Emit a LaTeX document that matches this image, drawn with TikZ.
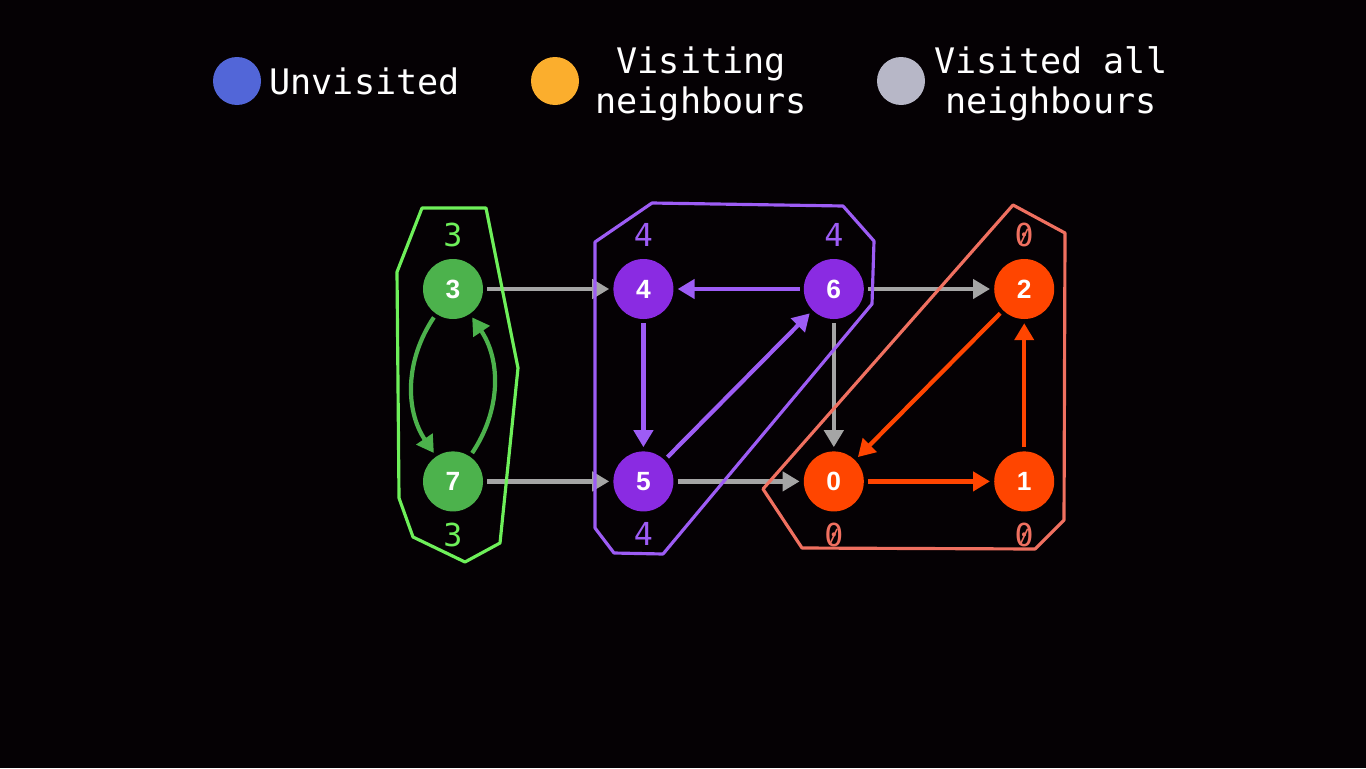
\documentclass[tikz,border=0pt]{standalone}
\usepackage{fontspec}
\setsansfont{Liberation Sans}
\setmonofont{DejaVu Sans Mono}
\usetikzlibrary{positioning,arrows.meta}

\definecolor{bgdark}{RGB}{5,1,4}
\definecolor{legblue}{RGB}{82,102,216}
\definecolor{legorange}{RGB}{251,174,45}
\definecolor{leggray}{RGB}{183,183,199}
\definecolor{grnnode}{RGB}{76,178,76}
\definecolor{grnhull}{RGB}{110,240,90}
\definecolor{purnode}{RGB}{138,43,226}
\definecolor{purhull}{RGB}{157,92,245}
\definecolor{rednode}{RGB}{255,69,0}
\definecolor{redhull}{RGB}{240,112,96}
\definecolor{edgegray}{RGB}{165,165,165}

% zero with a slash through it
\newcommand{\slzero}{\ooalign{0\cr\hidewidth\raisebox{0.1em}{\scalebox{0.62}{/}}\hidewidth\cr}}

\begin{document}
\begin{tikzpicture}[
node distance=1.31cm and 1.29cm,
vertex/.style={circle, minimum size=0.6cm, inner sep=0pt, text=white, font=\sffamily\bfseries\fontsize{7.5}{8}\selectfont},
idx/.style={inner sep=0pt, font=\ttfamily\fontsize{9}{10}\selectfont},
dot/.style={circle, minimum size=0.48cm, inner sep=0pt},
legtext/.style={inner sep=0pt, align=center, text=white, font=\ttfamily\fontsize{10}{11.4}\selectfont},
edge/.style={-{Triangle[length=1.7mm,width=1.9mm]}, line width=1.2pt, shorten <=1pt, shorten >=1pt},
hull/.style={line width=0.9pt, line join=round}
]
\fill[bgdark] (0,0) rectangle (13.66,-7.68);
\useasboundingbox (0,0) rectangle (13.66,-7.68);

% legend
\node[dot, fill=legblue] (dotu) at (2.37,-0.81) {};
\node[legtext, anchor=west, right=0.07cm of dotu] (legu) {Unvisited};
\node[dot, fill=legorange] (doto) at (5.55,-0.81) {};
\node[legtext, anchor=west, right=0.15cm of doto, yshift=-0.03cm] (lego) {Visiting\\neighbours};
\node[dot, fill=leggray] (dotg) at (9.01,-0.81) {};
\node[legtext, anchor=west, right=0.08cm of dotg, yshift=-0.03cm] (legg) {Visited all\\neighbours};

% vertices
\node[vertex, fill=grnnode] (n3) at (4.53,-2.89) {3};
\node[vertex, fill=grnnode, below=of n3] (n7) {7};
\node[vertex, fill=purnode, right=of n3] (n4) {4};
\node[vertex, fill=purnode, below=of n4] (n5) {5};
\node[vertex, fill=purnode, right=of n4] (n6) {6};
\node[vertex, fill=rednode, below=of n6] (n0) {0};
\node[vertex, fill=rednode, right=of n6] (n2) {2};
\node[vertex, fill=rednode, below=of n2] (n1) {1};

% low-link values
\node[idx, text=grnhull, above=0.11cm of n3] (i3) {3};
\node[idx, text=grnhull, below=0.1cm of n7] (i7) {3};
\node[idx, text=purhull, above=0.11cm of n4] (i4) {4};
\node[idx, text=purhull, above=0.11cm of n6] (i6) {4};
\node[idx, text=purhull, below=0.1cm of n5] (i5) {4};
\node[idx, text=redhull, above=0.11cm of n2] (i2) {\slzero};
\node[idx, text=redhull, below=0.1cm of n0] (i0) {\slzero};
\node[idx, text=redhull, below=0.1cm of n1] (i1) {\slzero};

% edges
\draw[edge, edgegray] (n3) -- (n4);
\draw[edge, edgegray] (n7) -- (n5);
\draw[edge, edgegray] (n6) -- (n2);
\draw[edge, edgegray] (n6) -- (n0);
\draw[edge, edgegray] (n5) -- (n0);
\draw[edge, grnnode] (n3) to[bend right=34] (n7);
\draw[edge, grnnode] (n7) to[bend right=34] (n3);
\draw[edge, purhull] (n6) -- (n4);
\draw[edge, purhull] (n4) -- (n5);
\draw[edge, purhull] (n5) -- (n6);
\draw[edge, rednode] (n2) -- (n0);
\draw[edge, rednode] (n0) -- (n1);
\draw[edge, rednode] (n1) -- (n2);

% components
\draw[hull, grnhull] (4.22,-2.08) -- (4.86,-2.08) -- (5.18,-3.68) -- (5.00,-5.43)
  -- (4.65,-5.62) -- (4.13,-5.37) -- (3.99,-4.98) -- (3.97,-2.72) -- cycle;
\draw[hull, purhull] (6.52,-2.03) -- (8.43,-2.06) -- (8.74,-2.41) -- (8.72,-3.04)
  -- (6.63,-5.54) -- (6.14,-5.53) -- (5.95,-5.28) -- (5.95,-2.42) -- cycle;
\draw[hull, redhull] (10.13,-2.05) -- (10.65,-2.33) -- (10.64,-5.20) -- (10.35,-5.49)
  -- (8.02,-5.48) -- (7.63,-4.89) -- cycle;
\end{tikzpicture}
\end{document}
